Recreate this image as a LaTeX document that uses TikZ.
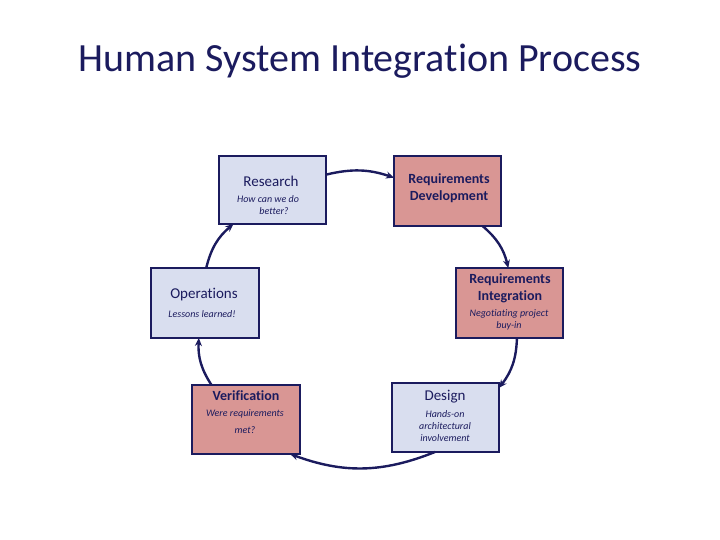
\documentclass[tikz,border=0pt]{standalone}
\usepackage{fontspec}
\setmainfont{Carlito}[Ligatures=NoCommon]
\usetikzlibrary{arrows.meta}
\definecolor{navy}{HTML}{1B1B5E}
\definecolor{boxblue}{HTML}{D9DEEF}
\definecolor{boxpink}{HTML}{D99694}
\begin{document}
\begin{tikzpicture}[x=1pt,y=1pt,
  box/.style={draw=navy, line width=1.8pt, inner sep=0pt, outer sep=0pt},
  bluebox/.style={box, fill=boxblue},
  pinkbox/.style={box, fill=boxpink},
  head/.style={text=navy, inner sep=0pt, font=\fontsize{15}{17}\selectfont},
  bhead/.style={text=navy, inner sep=0pt, align=center, font=\fontsize{14}{17}\selectfont\bfseries},
  sub/.style={text=navy, inner sep=0pt, align=center, font=\fontsize{10}{12}\selectfont\itshape},
  conn/.style={navy, line width=2.4pt, -{Stealth[length=8pt,width=7pt]}}]
\useasboundingbox (0,0) rectangle (720,540);

\node[text=navy, font=\fontsize{40}{44}\selectfont] (title) at (360,479) {Human System Integration Process};

% boxes
\node[bluebox, minimum width=107pt, minimum height=68pt] (res) at (272.5,350) {};
\node[pinkbox, minimum width=107pt, minimum height=70pt] (rd) at (447.5,349) {};
\node[pinkbox, minimum width=107pt, minimum height=70pt] (ri) at (509.5,237) {};
\node[bluebox, minimum width=108pt, minimum height=70pt] (ops) at (205,237) {};
\node[pinkbox, minimum width=108pt, minimum height=69pt] (ver) at (246,120.5) {};
\node[bluebox, minimum width=107pt, minimum height=69pt] (ds) at (445.5,122.5) {};

% texts
\node[head] (res-t) at (271,359) {Research};
\node[sub] (res-s) at (268,335) {How can we do\\ \hspace*{1.2em}better?};

\node[bhead] (rd-t) at (449,351.5) {Requirements\\Development};

\node[bhead] (ri-t) at (510,251.5) {Requirements\\Integration};
\node[sub] (ri-s) at (509,220) {Negotiating project\\buy-in};

\node[head] (ops-t) at (204,245) {Operations};
\node[sub] (ops-s) at (202,226) {Lessons learned!};

\node[bhead] (ver-t) at (246,144) {Verification};
\node[sub, font=\fontsize{10}{17}\selectfont\itshape] (ver-s) at (245,118.5) {Were requirements\\met?};

\node[head] (ds-t) at (445,143) {Design};
\node[sub] (ds-s) at (445,113.5) {Hands-on\\architectural\\involvement};

% connectors
\draw[conn] (res.16) to[bend left=16] (rd.166);
\draw[conn] (rd.-45) to[bend left=18] (ri.92);
\draw[conn] (ri.-78) to[bend left=18] (ds.29);
\draw[conn] (ds.-107) to[bend left=21] (ver.-38);
\draw[conn] (ver.135) to[bend left=18] (ops.-100);
\draw[conn] (ops.88) to[bend left=18] (res.-139);
\end{tikzpicture}
\end{document}
